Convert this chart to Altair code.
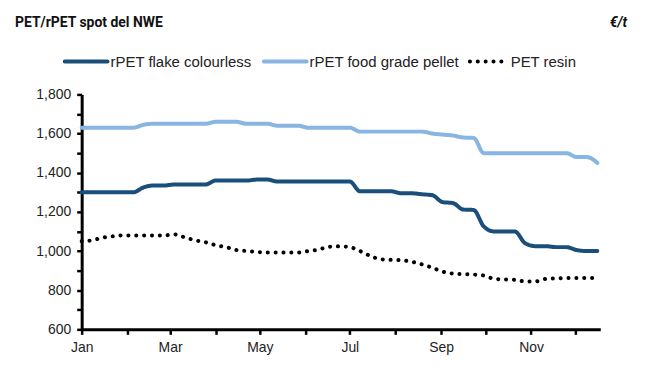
import altair as alt
import pandas as pd

# ---- data (weekly) ----
series_names = ["rPET flake colourless", "rPET food grade pellet", "PET resin"]
start_date = "2024-01-01"
n_weeks = 51

flake = [1300, 1300, 1300, 1300, 1300, 1300, 1325, 1335, 1335, 1340,
         1340, 1340, 1340, 1360, 1360, 1360, 1360, 1365, 1365, 1355,
         1355, 1355, 1355, 1355, 1355, 1355, 1355, 1305, 1305, 1305,
         1305, 1295, 1295, 1290, 1285, 1250, 1245, 1212, 1210, 1125,
         1100, 1100, 1100, 1040, 1025, 1025, 1020, 1020, 1005, 1000,
         1000]
pellet = [1630, 1630, 1630, 1630, 1630, 1630, 1645, 1650, 1650, 1650,
          1650, 1650, 1650, 1660, 1660, 1660, 1650, 1650, 1650, 1640,
          1640, 1640, 1630, 1630, 1630, 1630, 1630, 1610, 1610, 1610,
          1610, 1610, 1610, 1610, 1600, 1595, 1590, 1580, 1578, 1500,
          1500, 1500, 1500, 1500, 1500, 1500, 1500, 1500, 1480, 1480,
          1450]
resin = [1050, 1055, 1068, 1075, 1080, 1080, 1080, 1080, 1080, 1085,
         1070, 1055, 1045, 1030, 1020, 1005, 1000, 995, 993, 993,
         993, 993, 1000, 1008, 1022, 1024, 1020, 1000, 975, 958,
         955, 953, 945, 932, 915, 895, 885, 882, 880, 875,
         858, 855, 853, 845, 845, 858, 860, 862, 862, 862,
         862]

y_ticks = list(range(600, 1801, 100))
month_ticks = [f"2024-{m:02d}-01" for m in range(1, 13)]

colors = ["#1b4f7b", "#88b5e1", "#000000"]
dashes = [[1, 0], [1, 0], [0.1, 7.8]]

dates = pd.date_range(start_date, periods=n_weeks, freq="7D")
rows = []
for name, vals in zip(series_names, [flake, pellet, resin]):
    for d, v in zip(dates, vals):
        rows.append({"date": d.strftime("%Y-%m-%d"), "value": v, "series": name})
df = pd.DataFrame(rows)

FONT = "Liberation Sans"
TITLE_FONT = "Liberation Sans Narrow, Roboto"

lines = alt.Chart(df).mark_line(
    strokeWidth=4, strokeCap="round", strokeJoin="round", interpolate="monotone"
).encode(
    x=alt.X(
        "date:T",
        title=None,
        scale=alt.Scale(type="utc", domain=["2024-01-01", "2024-12-18"]),
        axis=alt.Axis(
            values=month_ticks,
            labelExpr="utcmonth(datum.value) % 2 == 0 ? utcFormat(datum.value, '%b') : ''",
            grid=False,
            domainColor="#000000",
            domainWidth=3,
            tickColor="#000000",
            tickWidth=2.5,
            tickSize=5,
            labelPadding=6,
            labelFontSize=14,
            labelColor="#222222",
            labelFont=FONT,
            labelAlign="center",
        ),
    ),
    y=alt.Y(
        "value:Q",
        title=None,
        scale=alt.Scale(domain=[600, 1800], nice=False, zero=False),
        axis=alt.Axis(
            values=y_ticks,
            labelExpr="datum.value % 200 == 0 ? format(datum.value, ',') : ''",
            grid=False,
            domainColor="#000000",
            domainWidth=3,
            tickColor="#000000",
            tickWidth=2.5,
            tickSize=5,
            labelPadding=6,
            labelFontSize=14,
            labelColor="#222222",
            labelFont=FONT,
        ),
    ),
    color=alt.Color("series:N", scale=alt.Scale(domain=series_names, range=colors), legend=None),
    strokeDash=alt.StrokeDash("series:N", scale=alt.Scale(domain=series_names, range=dashes), legend=None),
    order=alt.Order("date:T"),
)

# ---- manual legend (symbol + label per series) ----
legend_x = [(-17, 26), (183, 226), (390, 425)]
legend_y = -33
legend_layers = []
for name, col, dash, (x0, x1) in zip(series_names, colors, dashes, legend_x):
    ldf = pd.DataFrame({"series": [name]})
    sym = alt.Chart(ldf).mark_rule(
        strokeWidth=4, strokeCap="round", color=col, strokeDash=dash
    ).encode(x=alt.value(x0), x2=alt.value(x1), y=alt.value(legend_y))
    lab = alt.Chart(ldf).mark_text(
        align="left", baseline="middle", fontSize=15, font=FONT, color="#222222"
    ).encode(text="series:N", x=alt.value(x1 + 3 if dash[1] == 0 else x1 + 6), y=alt.value(legend_y))
    legend_layers += [sym, lab]

title_df = pd.DataFrame({"t": ["PET/rPET spot del NWE"]})
unit_df = pd.DataFrame({"t": ["€/t"]})

title = alt.Chart(title_df).mark_text(
    align="left", baseline="middle", fontSize=14, fontWeight="bold", font=TITLE_FONT, color="#111111"
).encode(text="t:N", x=alt.value(-67), y=alt.value(-72))

unit = alt.Chart(unit_df).mark_text(
    align="right", baseline="middle", fontSize=14, fontWeight="bold", fontStyle="italic",
    font=TITLE_FONT, color="#111111"
).encode(text="t:N", x=alt.value(548), y=alt.value(-72))

chart = alt.layer(lines, *legend_layers, title, unit).properties(
    width=521,
    height=236,
    autosize=alt.AutoSizeParams(type="none"),
    padding={"left": 74, "top": 86, "right": 60, "bottom": 40},
).configure_view(stroke=None)

chart.save("out.html", embed_options={"renderer": "svg", "actions": False})
